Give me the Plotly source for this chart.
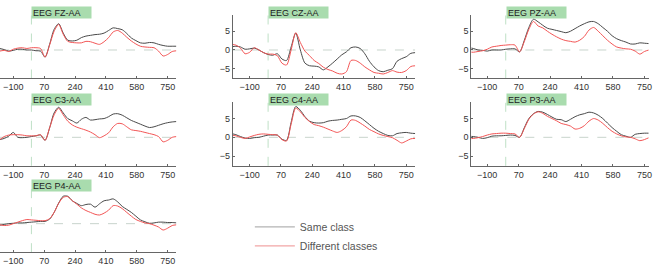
import plotly.graph_objects as go

# time axis (ms)
t = list(range(-200, 801, 25))

fz_same = [0.4, 0.4, 0.1, -0.3, -0.1, 0.2, 0.2, 0.0, 0.0, -0.2, -0.3, -1.9, 1.5, 5.5, 7.0, 4.5, 2.6, 2.4, 2.6, 3.3, 3.7,
           3.9, 4.1, 4.2, 4.5, 5.2, 5.9, 5.7, 5.4, 4.4, 3.2, 2.5, 1.9, 1.8, 2.0, 1.9, 1.5, 1.2, 1.0, 1.0, 1.0]
fz_diff = [-0.3, -0.3, -0.1, -0.4, 0.2, 0.5, 0.6, 0.4, 0.6, 0.6, 0.4, -1.9, 1.3, 5.0, 6.8, 4.2, 2.3, 2.0, 1.9, 1.9, 2.3,
           2.2, 1.8, 1.5, 2.2, 3.3, 4.8, 5.2, 4.5, 3.4, 2.4, 1.6, 1.0, 0.8, 0.7, 0.6, -0.3, -1.6, -1.2, -0.4, -0.2]
cz_same = [0.8, 1.0, 0.8, 0.2, 0.3, 0.5, 0.0, -0.7, -1.2, -1.4, -1.0, -2.4, -2.8, 0.8, 4.5, 0.0, -3.5, -4.2, -4.3, -4.5, -5.3,
           -4.5, -3.5, -2.4, -1.3, -0.5, 0.6, 0.8, 0.4, -1.0, -3.0, -4.5, -5.5, -5.8, -5.4, -5.0, -3.0, -2.3, -1.8, -0.9, -0.7]
cz_diff = [1.5, 1.3, 0.5, -1.0, -0.6, 0.6, 0.0, -0.7, -1.1, -1.1, -1.5, -3.5, -4.0, 0.0, 4.6, 2.0, -0.3, -1.5, -2.8, -3.6, -4.6,
           -5.2, -5.6, -6.2, -6.4, -5.8, -2.8, -2.8, -3.5, -4.5, -5.3, -6.0, -6.2, -6.4, -6.0, -5.5, -5.9, -6.0, -5.5, -4.4, -4.2]
pz_same = [0.6, 0.4, 0.0, -0.1, -0.3, 0.0, 0.0, 0.0, 0.2, 0.3, 0.3, -0.5, 2.5, 6.0, 8.2, 7.5, 6.6, 5.8, 5.5, 5.2, 4.9,
           4.6, 5.0, 5.7, 6.4, 7.0, 7.5, 7.6, 7.0, 6.0, 5.0, 3.8, 3.0, 2.5, 2.1, 1.6, 1.6, 1.9, 1.8, 1.7, 1.6]
pz_diff = [-0.5, -0.6, -0.4, -0.2, 0.2, 0.8, 1.0, 1.2, 1.3, 1.4, 1.3, -0.5, 2.2, 5.5, 7.6, 6.4, 5.9, 5.0, 4.2, 3.5, 2.9,
           2.5, 2.3, 2.1, 2.6, 3.6, 5.3, 6.0, 5.0, 3.8, 2.6, 1.6, 0.8, 0.5, 0.3, 0.2, -0.3, -1.1, -0.4, 0.0, 0.0]
c3_same = [-0.6, -0.6, -0.3, 0.3, 1.3, 0.0, -0.1, 0.0, 0.2, 0.4, 0.6, -0.8, 2.5, 6.5, 8.0, 6.5, 5.0, 4.4, 3.8, 4.8, 5.3,
           4.6, 4.7, 4.9, 5.0, 5.5, 6.2, 6.3, 5.9, 5.2, 4.5, 4.0, 3.5, 3.0, 2.6, 2.8, 3.2, 3.6, 3.9, 4.1, 4.2]
c3_diff = [-0.6, -0.6, 0.2, 0.6, 0.7, 0.7, 0.6, 0.4, 0.4, 0.4, 0.7, -0.8, 2.5, 6.0, 7.7, 6.0, 4.3, 3.3, 2.7, 2.3, 1.9,
           1.4, 0.7, -0.1, 0.4, 1.2, 2.8, 3.7, 3.6, 2.8, 2.0, 1.8, 1.6, 1.3, 1.0, 0.7, 0.2, -1.2, -0.8, 0.0, 0.2]
c4_same = [1.0, 0.7, 0.2, -0.2, -0.3, -0.1, 0.0, 0.3, 0.6, 0.6, 0.6, -0.5, -0.8, 4.0, 8.2, 7.2, 5.5, 4.3, 3.9, 3.8, 3.9,
           4.3, 4.5, 4.6, 4.8, 5.0, 5.7, 5.7, 5.3, 4.4, 3.4, 2.4, 1.6, 1.0, 0.5, 0.4, 1.0, 1.2, 1.3, 1.1, 1.0]
c4_diff = [0.6, 0.4, 0.0, -0.3, 0.1, 0.5, 0.8, 0.9, 0.8, 0.7, 0.6, -0.6, -1.0, 3.5, 7.8, 6.8, 5.3, 4.2, 3.4, 3.1, 2.7,
           2.2, 1.7, 1.3, 1.8, 2.8, 4.6, 4.5, 3.8, 3.0, 2.1, 1.5, 0.9, 0.5, 0.2, -0.1, -0.8, -1.5, -1.0, -0.4, -0.3]
p3_same = [0.3, 0.2, 0.0, -0.3, -0.1, 0.3, 0.4, 0.4, 0.5, 0.6, 0.5, 0.0, 2.5, 5.0, 6.3, 6.9, 6.7, 6.1, 5.4, 4.8, 4.7,
           4.2, 4.8, 5.5, 6.0, 6.3, 6.7, 6.5, 5.9, 5.0, 3.8, 2.6, 1.6, 0.7, 0.3, 0.0, 0.8, 1.0, 1.1, 1.1, 1.1]
p3_diff = [-0.4, -0.3, -0.1, 0.2, 0.6, 0.9, 1.0, 1.1, 1.1, 1.0, 0.9, 0.0, 2.3, 4.8, 6.2, 6.8, 6.4, 5.6, 5.0, 4.4, 3.7,
           3.4, 3.0, 2.2, 2.4, 3.1, 4.3, 5.0, 4.6, 3.7, 2.6, 1.6, 0.9, 0.4, 0.1, 0.0, -0.4, -0.9, -0.6, -0.1, 0.0]
p4_same = [-0.4, -0.4, -0.2, 0.0, 0.1, 0.2, 0.2, 0.3, 0.4, 0.5, 0.6, 0.6, 1.2, 3.0, 5.5, 7.3, 7.3, 6.1, 5.4, 4.8, 5.1,
           5.2, 4.4, 5.3, 6.1, 6.3, 6.6, 5.8, 4.6, 3.8, 3.0, 2.0, 1.0, 0.5, 0.1, 0.2, 0.4, 0.4, 0.3, 0.3, 0.2]
p4_diff = [-0.3, -0.3, -0.5, -0.4, 0.0, 0.4, 0.8, 1.1, 1.0, 0.9, 0.8, 0.8, 1.3, 3.0, 5.4, 7.0, 7.2, 6.1, 5.2, 4.2, 3.5,
           3.0, 2.5, 2.3, 2.8, 3.6, 4.8, 4.7, 4.0, 3.0, 2.0, 1.1, 0.6, 0.2, 0.0, -0.4, -0.9, -1.7, -1.2, -0.5, -0.3]

titles = ["EEG FZ-AA", "EEG CZ-AA", "EEG PZ-AA", "EEG C3-AA", "EEG C4-AA", "EEG P3-AA", "EEG P4-AA"]
same_series = [fz_same, cz_same, pz_same, c3_same, c4_same, p3_same, p4_same]
diff_series = [fz_diff, cz_diff, pz_diff, c3_diff, c4_diff, p3_diff, p4_diff]
grid_pos = [(0, 0), (0, 1), (0, 2), (1, 0), (1, 1), (1, 2), (2, 0)]
x_ticks = [-100, 70, 240, 410, 580, 750]
y_ticks = [-5, 0, 5]
legend_names = ["Same class", "Different classes"]

W, H = 654, 266
FONT = "Liberation Sans, Arial, sans-serif"
SAME_C = "#4a4a4a"
DIFF_C = "#f25555"

# column pixel extents and x ranges; row pixel extents
col_px = [(0, 177, -173, 797), (234, 417, -191, 798), (473.5, 651.5, -186, 772)]
row_px = [(15, 80), (104, 169), (192, 257)]
y_range = [-7.6, 9.4]

fig = go.Figure()
layout = dict(
    width=W, height=H, margin=dict(l=0, r=0, t=0, b=0),
    paper_bgcolor="white", plot_bgcolor="white",
    font=dict(family=FONT, size=9, color="#333"),
    shapes=[], annotations=[],
)

for i, (title, (r, c), s, d) in enumerate(zip(titles, grid_pos, same_series, diff_series)):
    k = i + 1
    xs = "x" if k == 1 else f"x{k}"
    ys = "y" if k == 1 else f"y{k}"
    xa = "xaxis" if k == 1 else f"xaxis{k}"
    ya = "yaxis" if k == 1 else f"yaxis{k}"
    x0, x1, rmin, rmax = col_px[c]
    y0, y1 = row_px[r]
    layout[xa] = dict(domain=[x0 / W, x1 / W], range=[rmin, rmax], anchor=ys,
                      showline=True, linecolor="#666", linewidth=1, ticks="inside", ticklen=2,
                      tickcolor="#666", tickvals=x_ticks, showgrid=False, zeroline=False,
                      ticklabeloverflow="allow",
                      tickfont=dict(size=9, color="#333"))
    layout[ya] = dict(domain=[1 - y1 / H, 1 - y0 / H], range=y_range, anchor=xs,
                      showline=True, linecolor="#666", linewidth=1, ticks="inside", ticklen=2,
                      tickcolor="#666", tickvals=y_ticks, showgrid=False, zeroline=False,
                      visible=(c != 0), tickfont=dict(size=9, color="#333"))
    fig.add_trace(go.Scatter(x=t, y=s, mode="lines", xaxis=xs, yaxis=ys, showlegend=False,
                             line=dict(color=SAME_C, width=1, shape="spline", smoothing=0.8)))
    fig.add_trace(go.Scatter(x=t, y=d, mode="lines", xaxis=xs, yaxis=ys, showlegend=False,
                             line=dict(color=DIFF_C, width=1, shape="spline", smoothing=0.8)))
    # zero reference lines
    layout["shapes"].append(dict(type="line", xref=f"{xs} domain", yref=ys, x0=0, x1=1, y0=0, y1=0,
                                 line=dict(color="#c8d4cc", width=1, dash="dash"), layer="below"))
    layout["shapes"].append(dict(type="line", xref=xs, yref=f"{ys} domain", x0=0, x1=0, y0=0, y1=1,
                                 line=dict(color="#bfe0c6", width=1, dash="dash"), layer="below"))
    layout["annotations"].append(dict(text=title, xref=xs, x=0, xanchor="left", yref="paper",
                                      y=1 - (y0 - 2.5) / H, yanchor="middle", showarrow=False,
                                      bgcolor="#a9dcae", width=57, height=9, borderpad=1, align="left",
                                      font=dict(size=9, color="#222")))

# legend entries
fig.add_trace(go.Scatter(x=[None], y=[None], mode="lines", name=legend_names[0],
                         line=dict(color="#b3b3b3", width=1.2)))
fig.add_trace(go.Scatter(x=[None], y=[None], mode="lines", name=legend_names[1],
                         line=dict(color="#f2a6a6", width=1.2)))
layout["legend"] = dict(x=251 / W, y=1 - 216.5 / H, xanchor="left", yanchor="top",
                        font=dict(size=10.5, color="#555"), itemwidth=40, bgcolor="rgba(0,0,0,0)",
                        tracegroupgap=0)
layout["showlegend"] = True

fig.update_layout(**layout)
fig.write_html("out.html")
